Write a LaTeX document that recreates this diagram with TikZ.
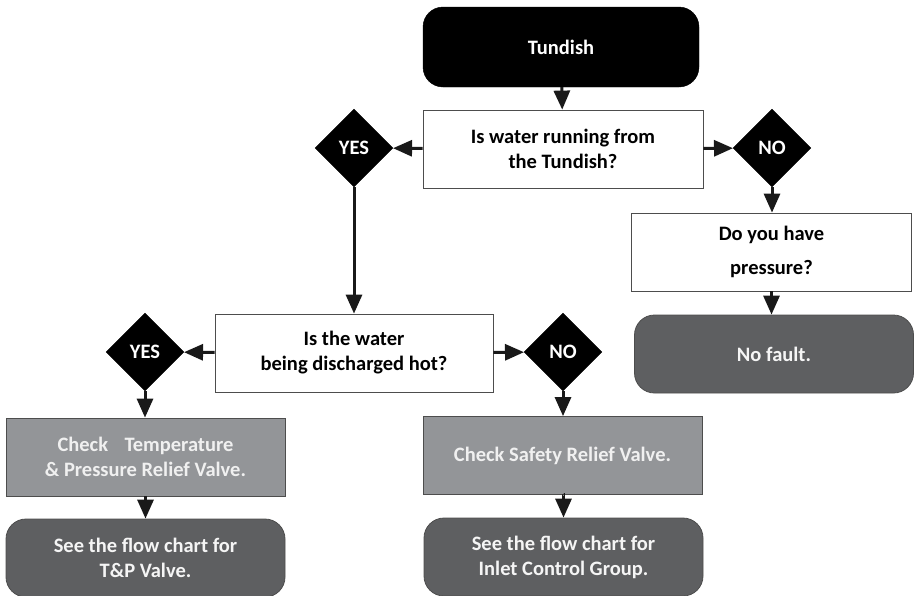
\documentclass[tikz,border=0pt]{standalone}
\usepackage{fontspec}
\setmainfont{Carlito}
\usetikzlibrary{shapes.geometric,arrows.meta}
\definecolor{lgrey}{HTML}{939598}
\definecolor{dgrey}{HTML}{5E5F61}
\definecolor{edge}{HTML}{4D4D4D}
\begin{document}
\begin{tikzpicture}[x=1pt,y=-1pt,
  every node/.style={font=\bfseries\fontsize{20.5}{25}\selectfont, align=center, inner sep=0pt},
  startbox/.style={rectangle, rounded corners=20pt, fill=black, draw=black, text=white, minimum width=276pt, minimum height=80pt},
  qbox/.style={rectangle, fill=white, draw=edge, line width=0.8pt, text=black, minimum width=280pt, minimum height=78pt},
  actbox/.style={rectangle, fill=lgrey, draw=edge, line width=0.8pt, text=white!94!black, minimum width=279pt, minimum height=78pt},
  endbox/.style={rectangle, rounded corners=20pt, fill=dgrey, draw=edge, line width=0.8pt, text=white!96!black, minimum width=279pt, minimum height=78pt},
  dia/.style={diamond, fill=black, draw=black, text=white, minimum width=78pt, minimum height=78pt},
  conn/.style={line width=3pt, draw=black!90, -{Triangle[length=19pt,width=16pt]}}
]
\useasboundingbox (0,0) rectangle (917,595);

\node[startbox] (tun) at (561,47) {Tundish};
\node[qbox] (q1) at (563,149) {Is water running from\\the Tundish?};
\node[dia] (y1) at (354,148) {YES};
\node[dia] (n1) at (772,148) {NO};
\node[qbox, font=\bfseries\fontsize{20.5}{34}\selectfont] (q3) at (771.5,252) {Do you have\\pressure?};
\node[endbox] (nf) at (774,354) {No fault.};
\node[qbox, minimum width=278pt] (q2) at (354,353) {Is the water\\being discharged hot?};
\node[dia] (y2) at (145,352) {YES};
\node[dia] (n2) at (563,352) {NO};
\node[actbox] (tp) at (145.5,457) {Check\hspace{0.8em}Temperature\\\& Pressure Relief Valve.};
\node[actbox] (sr) at (562.5,455.5) {Check Safety Relief Valve.};
\node[endbox] (tpv) at (145.5,558) {See the flow chart for\\T\&P Valve.};
\node[endbox] (icg) at (563.5,557) {See the flow chart for\\Inlet Control Group.};

\draw[conn] (tun) -- (q1);
\draw[conn] (q1) -- (y1);
\draw[conn] (q1) -- (n1);
\draw[conn] (n1) -- (n1 |- q3.north);
\draw[conn] (q3) -- (q3 |- nf.north);
\draw[conn] (y1) -- (y1 |- q2.north);
\draw[conn] (q2) -- (y2);
\draw[conn] (q2) -- (n2);
\draw[conn] (y2) -- (y2 |- tp.north);
\draw[conn] (n2) -- (n2 |- sr.north);
\draw[conn] (tp) -- (tpv);
\draw[conn] (sr) -- (sr.south -| icg.north) -- (icg.north);
\end{tikzpicture}
\end{document}
